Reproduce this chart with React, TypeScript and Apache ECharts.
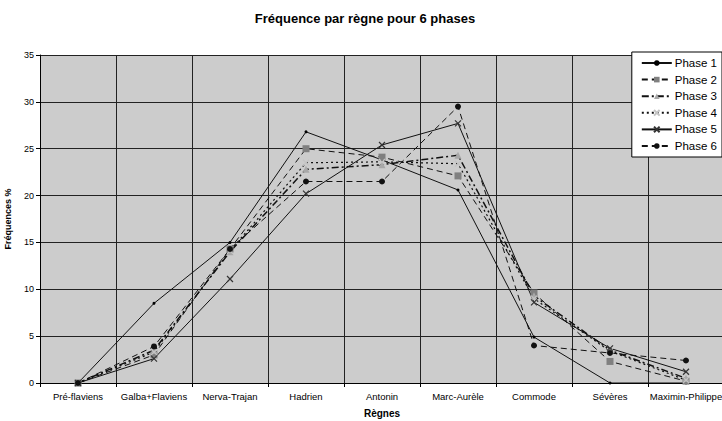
import React, { useEffect, useRef } from "react";
import * as echarts from "echarts";

const categories = ["Pré-flaviens", "Galba+Flaviens", "Nerva-Trajan", "Hadrien", "Antonin", "Marc-Aurèle", "Commode", "Sévères", "Maximin-Philippe"];
const phase1 = [0, 8.5, 15.0, 26.8, 23.8, 20.6, 4.9, 0, 0];
const phase2 = [0, 3.0, 14.3, 25.0, 24.1, 22.1, 9.6, 2.3, 0.2];
const phase3 = [0, 3.5, 14.0, 22.8, 23.3, 24.3, 9.3, 3.5, 0.5];
const phase4 = [0, 3.3, 14.1, 23.5, 23.6, 23.4, 9.0, 3.4, 0.3];
const phase5 = [0, 2.6, 11.1, 20.2, 25.4, 27.7, 8.6, 3.7, 1.2];
const phase6 = [0, 3.9, 14.3, 21.5, 21.5, 29.5, 4.0, 3.2, 2.4];
const yTicks = { min: 0, max: 35, interval: 5 };

export default function App() {
  const ref = useRef<HTMLDivElement>(null);
  useEffect(() => {
    if (!ref.current) return;
    const chart = echarts.init(ref.current, null, { renderer: "svg" });
    const font = "Liberation Sans, Arial, sans-serif";
    const mk = (name: string, data: number[], lineType: any, width: number, symbol: string, size: number, color: string, cross = false) => ({
      name,
      type: "line",
      data,
      symbol,
      symbolSize: size,
      showSymbol: true,
      lineStyle: { color: "#111", width, type: lineType },
      itemStyle: cross ? { color, borderColor: color, borderWidth: 1.2 } : { color, borderColor: color, borderWidth: 0 },
      emphasis: { disabled: true },
    });
    const crossPath = "path://M0,0L10,10M10,0L0,10";
    chart.setOption({
      animation: false,
      backgroundColor: "#ffffff",
      title: {
        text: "Fréquence par règne pour 6 phases",
        left: 360,
        textAlign: "center",
        top: 7,
        textStyle: { fontFamily: font, fontSize: 13, fontWeight: "bold", color: "#000" },
      },
      legend: {
        orient: "vertical",
        right: 0,
        top: 52,
        backgroundColor: "#ffffff",
        borderColor: "#000",
        borderWidth: 1,
        borderRadius: 0,
        padding: [5, 5, 5, 9],
        itemWidth: 30,
        itemHeight: 7,
        itemGap: 4.6,
        textStyle: { fontFamily: font, fontSize: 11.5, color: "#000", padding: [0, 0, 0, -2] },
        data: ["Phase 1", "Phase 2", "Phase 3", "Phase 4", "Phase 5", "Phase 6"],
      },
      grid: { left: 40, top: 55, width: 684, height: 328, backgroundColor: "#cccccc", show: true, borderWidth: 0, containLabel: false, outerBoundsMode: "none" },
      xAxis: {
        type: "category",
        data: categories,
        boundaryGap: true,
        name: "Règnes",
        nameLocation: "middle",
        nameGap: 25,
        nameTextStyle: { fontFamily: font, fontSize: 10, fontWeight: "bold", color: "#000" },
        axisLine: { lineStyle: { color: "#000", width: 1 } },
        axisTick: { show: true, interval: 0, length: 4, lineStyle: { color: "#000" } },
        axisLabel: { interval: 0, fontFamily: font, fontSize: 9.5, color: "#000", margin: 8, hideOverlap: false },
        splitLine: { show: true, interval: 0, lineStyle: { color: "#222", width: 1 } },
      },
      yAxis: {
        type: "value",
        min: yTicks.min,
        max: yTicks.max,
        interval: yTicks.interval,
        name: "Fréquences %",
        nameLocation: "middle",
        nameGap: 28,
        nameRotate: 90,
        nameTextStyle: { fontFamily: font, fontSize: 9, fontWeight: "bold", color: "#000" },
        axisLine: { show: true, lineStyle: { color: "#000", width: 1 } },
        axisTick: { show: true, length: 4, lineStyle: { color: "#000" } },
        axisLabel: { fontFamily: font, fontSize: 9, color: "#000", margin: 6 },
        splitLine: { show: true, lineStyle: { color: "#222", width: 1 } },
      },
      series: [
        mk("Phase 1", phase1, "solid", 1, "circle", 3, "#000"),
        mk("Phase 2", phase2, [6, 4], 1, "rect", 7, "#808080"),
        mk("Phase 3", phase3, [7, 3, 2, 3], 1.5, "triangle", 7, "#a8a8a8"),
        mk("Phase 4", phase4, [2, 3], 1.2, crossPath, 6, "#c4c4c4", true),
        mk("Phase 5", phase5, "solid", 1, crossPath, 6, "#333", true),
        mk("Phase 6", phase6, [6, 4], 1, "circle", 6, "#111"),
      ],
    });
    return () => chart.dispose();
  }, []);
  return <div ref={ref} style={{ width: 722, height: 421, position: "absolute", left: 0, top: 0 }} />;
}
